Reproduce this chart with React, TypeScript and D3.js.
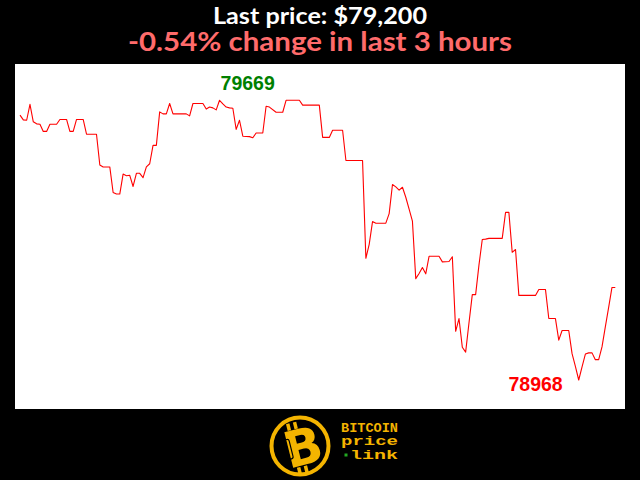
import React from "react";
import * as d3 from "d3";

const minutes = [0,1,2,3,4,5,6,7,8,9,11,12,14,15,16,17,19,20,23,24,25,27,28,29,30,31,32,33,34,35,36,37,38,39,40,41,42,43,44,45,46,50,51,52,55,56,57,58,59,60,61,62,63,64,65,66,67,69,70,71,73,74,75,77,79,80,84,85,90,91,93,94,97,98,103,104,105,106,107,110,111,112,113,114,115,116,117,118,119,120,121,122,123,126,127,129,130,131,132,133,134,135,136,137,138,139,140,141,145,146,147,148,149,150,155,156,158,159,161,162,163,165,166,167,168,169,170,171,172,173,174,175,176,177,178,179];
const prices = [79632,79620,79619,79659,79615,79610,79609,79591,79591,79609,79609,79621,79621,79591,79591,79621,79621,79584,79584,79507,79502,79502,79438,79434,79434,79484,79480,79481,79453,79486,79486,79475,79502,79510,79556,79556,79640,79635,79635,79661,79635,79635,79630,79661,79661,79647,79652,79650,79645,79669,79660,79652,79650,79649,79596,79619,79579,79578,79575,79587,79587,79654,79652,79639,79639,79669,79669,79657,79657,79576,79576,79594,79594,79518,79518,79273,79308,79365,79361,79361,79385,79458,79452,79444,79451,79426,79396,79366,79222,79235,79250,79234,79278,79278,79264,79265,79277,79090,79122,79050,79038,79111,79182,79182,79256,79320,79321,79323,79323,79388,79388,79288,79295,79180,79180,79195,79195,79122,79122,79068,79092,79092,79034,79002,78968,79001,79033,79036,79036,79019,79019,79051,79101,79150,79200,79200];

const titleLine1 = "Last price: $79,200";
const titleLine2 = "-0.54% change in last 3 hours";
const logoLines = ["BITCOIN", "price", "link"];

const W = 640, H = 480;
const GOLD = "#f4b400";

export default function App() {
  const data = minutes.map((m, i) => ({ m, p: prices[i] }));
  const maxP = d3.max(prices) as number;
  const minP = d3.min(prices) as number;
  const maxIdx = prices.indexOf(maxP);
  const minIdx = prices.indexOf(minP);

  const x = d3.scaleLinear().domain([0, 179]).range([20, 615.3]);
  const y = d3.scaleLinear().domain([minP, maxP]).range([380, 100.3]);

  const line = d3.line<{ m: number; p: number }>().x(d => x(d.m)).y(d => y(d.p));
  const mono = "'Liberation Mono', 'DejaVu Sans Mono', monospace";

  return (
    <svg width={W} height={H} style={{ position: "absolute", left: 0, top: 0, display: "block" }}>
      <rect x={0} y={0} width={W} height={H} fill="#000" />
      <text x={320} y={24} textAnchor="middle" fill="#fff" fontFamily="Lato, 'Noto Sans', sans-serif" fontWeight="bold" fontSize={22} textLength={214} lengthAdjust="spacingAndGlyphs">{titleLine1}</text>
      <text x={320} y={51} textAnchor="middle" fill="#ff6b6b" fontFamily="Lato, 'Noto Sans', sans-serif" fontWeight="bold" fontSize={27} textLength={384} lengthAdjust="spacingAndGlyphs">{titleLine2}</text>

      <rect x={15} y={64} width={610} height={345} fill="#fff" />
      <path d={line(data) || ""} fill="none" stroke="#ff0000" strokeWidth={1.1} strokeLinejoin="round" />

      <text x={x(minutes[maxIdx]) + 1} y={y(maxP) - 10} fill="#008000" fontFamily="'Liberation Sans', Arial, sans-serif" fontWeight="bold" fontSize={19.5}>{String(maxP)}</text>
      <text x={x(minutes[minIdx]) - 16} y={y(minP) + 10.5} textAnchor="end" fill="#ff0000" fontFamily="'Liberation Sans', Arial, sans-serif" fontWeight="bold" fontSize={19.5}>{String(minP)}</text>

      <g>
        <circle cx={300} cy={446} r={28.5} fill="#000" stroke={GOLD} strokeWidth={4} />
        <g transform="rotate(-14 302 447)">
          <rect x={292} y={421} width={3.5} height={7} fill={GOLD} />
          <rect x={299} y={421} width={3.5} height={7} fill={GOLD} />
          <rect x={292} y={466} width={3.5} height={7} fill={GOLD} />
          <rect x={299} y={466} width={3.5} height={7} fill={GOLD} />
          <text x={303} y={465} textAnchor="middle" fill={GOLD} fontFamily="'DejaVu Sans', sans-serif" fontWeight="bold" fontSize={50}>B</text>
          <rect x={286} y={436} width={5} height={20} rx={2} fill="none" stroke="#000" strokeWidth={1.2} />
        </g>
        <text x={341} y={432} fill={GOLD} fontFamily={mono} fontWeight="bold" fontSize={12.5} textLength={57} lengthAdjust="spacingAndGlyphs">{logoLines[0]}</text>
        <text x={341} y={445} fill={GOLD} fontFamily={mono} fontWeight="bold" fontSize={12.5} textLength={57} lengthAdjust="spacingAndGlyphs">{logoLines[1]}</text>
        <rect x={344.5} y={453.5} width={3} height={3} fill="#22aa22" />
        <text x={350} y={458.5} fill={GOLD} fontFamily={mono} fontWeight="bold" fontSize={12.5} textLength={48} lengthAdjust="spacingAndGlyphs">{logoLines[2]}</text>
      </g>
    </svg>
  );
}
